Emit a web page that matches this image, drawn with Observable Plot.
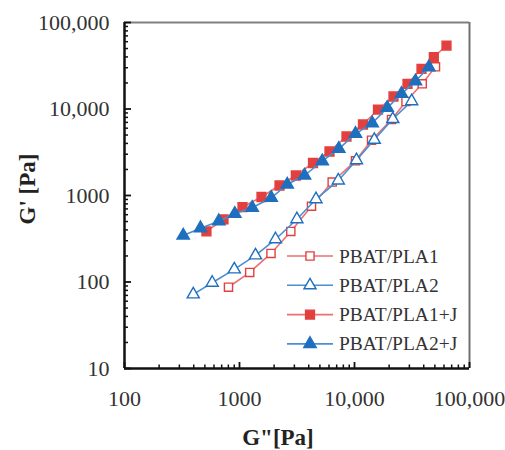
<!DOCTYPE html>
<html><head><meta charset="utf-8">
<script src="https://cdn.jsdelivr.net/npm/d3@7"></script>
<script src="https://cdn.jsdelivr.net/npm/@observablehq/plot@0.6"></script>
<style>
body{margin:0;background:#fff;}
#chart{width:505px;height:450px;}
#chart svg, #chart svg text{font-family:"Liberation Serif","Times New Roman",Times,"DejaVu Serif",serif !important;}
</style>
</head><body><div id="chart"></div>
<script>
// ---- data ----
const seriesNames = ["PBAT/PLA1", "PBAT/PLA2", "PBAT/PLA1+J", "PBAT/PLA2+J"];

const pla1_Gpp = [802, 1227, 1879, 2793, 4227, 6397, 10200, 14060, 20990, 28050, 38800, 50600];
const pla1_Gp  = [87, 129, 214, 384, 752, 1432, 2518, 4356, 7566, 12210, 19560, 30750];

const pla2_Gpp = [396, 579, 901, 1377, 2056, 3155, 4624, 7230, 10400, 14860, 21530, 31420];
const pla2_Gp  = [72, 98, 140, 203, 312, 532, 906, 1490, 2558, 4406, 7656, 12310];

const pla1j_Gpp = [516, 726, 1062, 1553, 2228, 3090, 4357, 6061, 8517, 11850, 16000, 21830, 28900, 38250, 48950, 63100];
const pla1j_Gp  = [384, 528, 736, 961, 1305, 1703, 2375, 3226, 4810, 6620, 9866, 13950, 19560, 29150, 39900, 54200];

const pla2j_Gpp = [324, 458, 661, 910, 1290, 1887, 2600, 3675, 5240, 7300, 10200, 14250, 19250, 25630, 33900, 44300];
const pla2j_Gp  = [345, 419, 505, 614, 721, 940, 1340, 1703, 2493, 3467, 5166, 6850, 10320, 14990, 20960, 30420];

const xTicks = [100, 1000, 10000, 100000];
const yTicks = [10, 100, 1000, 10000, 100000];
const xLabel = "G\"[Pa]";
const yLabel = "G' [Pa]";

// ---- styling ----
const FONT = "'Liberation Serif','Times New Roman',Times,'DejaVu Serif',serif";
const RED = "#e2403f", RED_LINE = "#ee6f6f";
const BLUE = "#1f6fbf", BLUE_LINE = "#4b8fd3";
const styles = {
  "PBAT/PLA1":   {symbol: "square",   stroke: RED,  fill: "white", line: RED_LINE, r: 4.6},
  "PBAT/PLA2":   {symbol: "triangle", stroke: BLUE, fill: "white", line: BLUE_LINE, r: 4.5},
  "PBAT/PLA1+J": {symbol: "square",   stroke: RED,  fill: RED,     line: RED_LINE, r: 5},
  "PBAT/PLA2+J": {symbol: "triangle", stroke: BLUE, fill: BLUE,    line: BLUE_LINE, r: 4.6}
};

const xs = [pla1_Gpp, pla2_Gpp, pla1j_Gpp, pla2j_Gpp];
const ys = [pla1_Gp, pla2_Gp, pla1j_Gp, pla2j_Gp];
const rows = [];
seriesNames.forEach((s, i) => xs[i].forEach((x, j) => rows.push({series: s, x, y: ys[i][j]})));

const minor = (lo, hi) => {
  const out = [];
  for (let d = lo; d < hi; d *= 10) for (let k = 2; k <= 9; k++) out.push(d * k);
  return out;
};
const fmt = d => d >= 10000 ? d3.format(",")(d) : String(d);

const seriesMarks = seriesNames.flatMap(s => {
  const st = styles[s];
  const data = rows.filter(r => r.series === s);
  return [
    Plot.line(data, {x: "x", y: "y", stroke: st.line, strokeWidth: 1.6}),
    Plot.dot(data, {x: "x", y: "y", symbol: () => st.symbol, r: st.r, fill: st.fill, stroke: st.stroke, strokeWidth: 1.4})
  ];
});

const W = 505, H = 450, ML = 124, MR = 36, MT = 22, MB = 82;
const plot = Plot.plot({
  width: W, height: H,
  marginLeft: ML, marginRight: MR, marginTop: MT, marginBottom: MB,
  style: {fontFamily: FONT, background: "white", overflow: "visible"},
  x: {type: "log", domain: [100, 100000], axis: null},
  y: {type: "log", domain: [10, 100000], axis: null},
  symbol: {domain: ["square", "triangle"], range: ["square", "triangle"]},
  marks: [
    ...seriesMarks,
    // frame: top/right gray, left/bottom black
    Plot.ruleY([yTicks[yTicks.length - 1]], {stroke: "#808080", strokeWidth: 2}),
    Plot.ruleX([xTicks[xTicks.length - 1]], {stroke: "#707070", strokeWidth: 2}),
    Plot.ruleX([xTicks[0]], {stroke: "#111", strokeWidth: 2.5}),
    Plot.ruleY([yTicks[0]], {stroke: "#111", strokeWidth: 2.5}),
    // inward ticks
    Plot.axisY(minor(10, 100000), {anchor: "left", tickSize: -4, text: null, label: null, stroke: "#111", strokeWidth: 1.5}),
    Plot.axisY(yTicks, {anchor: "left", tickSize: -7, text: null, label: null, stroke: "#111", strokeWidth: 1.8}),
    Plot.axisX(minor(100, 100000), {anchor: "bottom", tickSize: -3.5, text: null, label: null, stroke: "#111", strokeWidth: 1.5}),
    Plot.axisX(xTicks, {anchor: "bottom", tickSize: -6, text: null, label: null, stroke: "#111", strokeWidth: 1.8}),
    // labels
    Plot.axisY(yTicks, {anchor: "left", tickSize: 0, tickPadding: 15, tickFormat: fmt, fontSize: 22, fill: "#333", label: null}),
    Plot.axisX(xTicks, {anchor: "bottom", tickSize: 0, tickPadding: 22, tickFormat: fmt, fontSize: 22, fill: "#333", label: null})
  ]
});
document.getElementById("chart").appendChild(plot);

// axis titles and in-plot legend
const svg = d3.select(plot);
svg.append("text")
  .attr("transform", "translate(27,189) rotate(-90)")
  .attr("text-anchor", "middle").attr("dominant-baseline", "central")
  .attr("font-family", FONT).attr("font-weight", "bold")
  .attr("font-size", 23).attr("fill", "#222").text(yLabel);
svg.append("text")
  .attr("x", 278).attr("y", 437)
  .attr("text-anchor", "middle").attr("dominant-baseline", "central")
  .attr("font-family", FONT).attr("font-weight", "bold")
  .attr("font-size", 23).attr("fill", "#222").text(xLabel);

const lg = svg.append("g");
seriesNames.forEach((s, i) => {
  const st = styles[s];
  const yy = 256 + i * 29.3;
  lg.append("line").attr("x1", 287).attr("x2", 333).attr("y1", yy).attr("y2", yy)
    .attr("stroke", st.line).attr("stroke-width", 1.6);
  const sym = st.symbol === "square" ? d3.symbolSquare : d3.symbolTriangle;
  lg.append("path").attr("d", d3.symbol(sym, Math.PI * st.r * st.r)())
    .attr("transform", `translate(310,${yy})`)
    .attr("fill", st.fill).attr("stroke", st.stroke).attr("stroke-width", 1.4);
  lg.append("text").attr("x", 339).attr("y", yy)
    .attr("text-anchor", "start").attr("dominant-baseline", "central")
    .attr("font-family", FONT).attr("font-size", 19.5)
    .attr("fill", "#333").text(s);
});
</script>
</body></html>
